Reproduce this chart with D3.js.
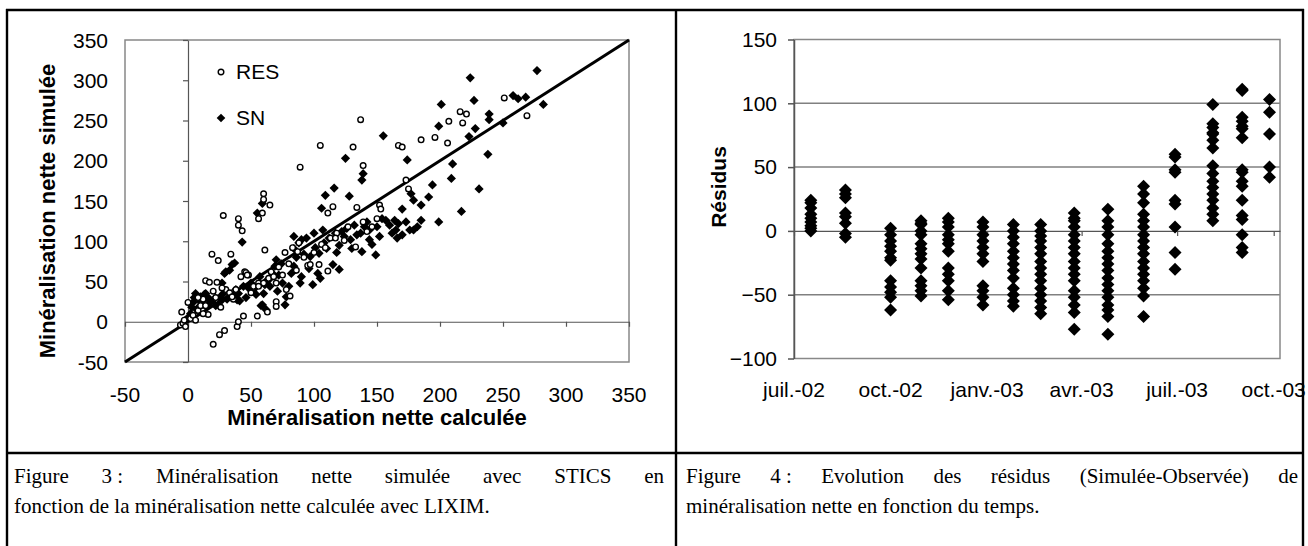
<!DOCTYPE html>
<html><head><meta charset="utf-8">
<script src="https://cdn.jsdelivr.net/npm/d3@7"></script>
<style>body{margin:0;background:#fff}svg{display:block}</style>
</head><body>
<svg id="c" width="1308" height="546"></svg>
<script>
// ---------- Figure 3 data (calculée, simulée) ----------
const resPoints = [[-6,-4],[-5,12],[-4,-2],[-3,2],[-2,-6],[0,24],[2,4],[4,8],[6,2],[8,14],[10,20],[12,28],[14,51],[16,9],[17,49],[19,84],[20,-28],[22,30],[23,49],[24,76],[25,-16],[26,18],[28,132],[29,-11],[30,40],[34,84],[36,28],[38,40],[39,-6],[40,0],[40,128],[40,120],[42,56],[43,113],[44,7],[45,62],[46,61],[48,58],[50,36],[52,44],[55,7],[56,128],[56,48],[59,135],[60,159],[60,152],[61,89],[63,12],[64,54],[65,145],[66,62],[68,56],[70,25],[70,19],[70,48],[72,68],[75,58],[77,86],[78,40],[80,72],[81,32],[83,92],[85,64],[88,98],[89,192],[92,80],[95,70],[97,71],[100,86],[104,71],[105,219],[106,96],[109,92],[111,135],[113,104],[115,143],[118,110],[124,101],[127,118],[131,217],[133,93],[134,142],[137,251],[139,194],[139,124],[142,112],[146,118],[150,128],[152,145],[153,140],[167,219],[170,217],[173,176],[175,165],[185,226],[196,229],[206,222],[207,249],[216,261],[218,247],[221,258],[251,278],[269,256],[20,38],[14,20],[8,30],[12,10],[60,48],[56,44],[33,36],[27,42],[111,63],[117,104],[87,87],[86,64],[47,58],[35,31]];
const snPoints = [[-2,2],[0,5],[2,10],[3,18],[4,24],[5,30],[6,35],[7,15],[8,28],[9,19],[10,31],[11,22],[12,26],[13,34],[14,35],[15,18],[16,30],[17,23],[18,26],[20,27],[22,20],[24,21],[25,30],[27,27],[27,48],[28,35],[29,60],[30,62],[31,28],[33,64],[35,71],[36,32],[37,73],[38,40],[39,27],[40,35],[41,26],[43,99],[44,44],[46,30],[48,42],[50,48],[52,40],[54,34],[55,135],[57,56],[58,20],[59,147],[59,21],[60,35],[61,46],[62,15],[63,52],[64,52],[65,44],[67,60],[69,69],[70,77],[71,38],[72,58],[74,72],[75,48],[77,21],[78,31],[80,44],[82,60],[84,106],[84,91],[84,69],[86,80],[88,98],[89,48],[90,102],[90,56],[92,84],[94,104],[96,66],[97,81],[99,46],[100,110],[101,92],[103,60],[104,85],[105,54],[106,141],[107,114],[108,98],[109,157],[110,91],[112,104],[115,71],[116,166],[117,110],[118,86],[120,95],[120,65],[122,112],[124,106],[125,203],[126,116],[128,156],[129,102],[130,91],[132,120],[134,108],[137,110],[138,87],[138,176],[139,184],[140,118],[142,124],[144,114],[144,102],[146,96],[149,83],[150,118],[152,106],[154,128],[155,231],[157,126],[160,120],[162,110],[164,126],[165,114],[166,104],[167,122],[170,140],[170,108],[173,124],[174,201],[176,114],[177,159],[179,151],[179,114],[182,118],[185,145],[185,126],[191,155],[194,170],[199,124],[199,243],[201,270],[209,178],[210,196],[217,137],[223,230],[224,303],[227,275],[228,240],[231,165],[238,208],[239,258],[239,251],[250,247],[258,281],[262,277],[268,279],[277,312],[282,270]];
const scatterTicks = [-50,0,50,100,150,200,250,300,350];
const scatterLegend = ["RES","SN"];

// ---------- Figure 4 data (résidus by sampling date) ----------
const residDates = ["2002-07-17","2002-08-19","2002-10-01","2002-10-30","2002-11-25","2002-12-28","2003-01-26","2003-02-21","2003-03-25","2003-04-26","2003-05-30","2003-06-29","2003-08-04","2003-09-01","2003-09-27"];
const residValues = [
  [24,22,18,13,10,7,4,2,0],
  [32,29,26,14,11,6,-2,-5],
  [2,-3,-8,-12,-16,-21,-23,-39,-44,-48,-52,-62],
  [8,6,5,0,-3,-10,-14,-18,-22,-29,-39,-43,-47,-51],
  [10,7,3,-3,-7,-10,-16,-29,-34,-39,-47,-54],
  [7,3,-3,-8,-13,-18,-24,-43,-47,-52,-58],
  [5,0,-5,-10,-16,-21,-26,-31,-37,-45,-50,-55,-59],
  [5,0,-4,-8,-13,-18,-24,-29,-34,-39,-45,-50,-55,-60,-65],
  [14,10,8,3,-3,-8,-13,-18,-24,-29,-34,-39,-47,-52,-58,-64,-77],
  [17,8,3,-3,-10,-16,-21,-26,-31,-37,-42,-47,-52,-58,-62,-67,-81],
  [35,29,22,13,8,3,-3,-8,-13,-18,-24,-29,-34,-39,-45,-51,-67],
  [60,58,48,46,24,21,3,-17,-30],
  [99,84,81,77,76,71,65,51,45,39,34,29,24,18,13,8],
  [111,110,89,86,82,80,73,48,46,39,35,24,12,9,-3,-13,-17],
  [103,93,76,50,42]
];
const residYTicks = [-100,-50,0,50,100,150];
const residXTickDates = ["2002-07-01","2002-10-01","2003-01-01","2003-04-01","2003-07-01","2003-10-01"];
const residXTickLabels = ["juil.-02","oct.-02","janv.-03","avr.-03","juil.-03","oct.-03"];

const captionLeft = ["Figure 3\u00a0: Minéralisation nette simulée avec STICS en","fonction de la minéralisation nette calculée avec LIXIM."];
const captionRight = ["Figure 4\u00a0: Evolution des résidus (Simulée-Observée) de","minéralisation nette en fonction du temps."];

const svg = d3.select("#c");
const SANS = "'Liberation Sans', Arial, sans-serif";
const SERIF = "'Liberation Serif', 'Times New Roman', serif";
const diamond = { draw(ctx, size){ const r = Math.sqrt(size/2); ctx.moveTo(0,-r); ctx.lineTo(r,0); ctx.lineTo(0,r); ctx.lineTo(-r,0); ctx.closePath(); } };

// ===== Left chart =====
const xL = d3.scaleLinear().domain([-50,350]).range([125,629]);
const yL = d3.scaleLinear().domain([-50,350]).range([362,40]);
const gL = svg.append("g");
gL.append("rect").attr("x",xL(-50)).attr("y",yL(350)).attr("width",xL(350)-xL(-50)).attr("height",yL(-50)-yL(350))
  .attr("fill","none").attr("stroke","#888").attr("stroke-width",1.5);
gL.append("g").attr("transform",`translate(0,${yL(0)})`)
  .call(d3.axisBottom(xL).tickValues(scatterTicks).tickSize(5).tickSizeOuter(0).tickFormat(""))
  .call(g=>g.selectAll("path,line").attr("stroke","#555").attr("stroke-width",1.2));
gL.append("g").attr("transform",`translate(${xL(0)},0)`)
  .call(d3.axisLeft(yL).tickValues(scatterTicks).tickSize(5).tickSizeOuter(0).tickFormat(""))
  .call(g=>g.selectAll("path,line").attr("stroke","#555").attr("stroke-width",1.2));
gL.append("g").selectAll("text").data(scatterTicks).join("text")
  .attr("x",108).attr("y",d=>yL(d)).attr("dy","0.36em").attr("text-anchor","end")
  .attr("font-family",SANS).attr("font-size",21).text(d=>d);
gL.append("g").selectAll("text").data(scatterTicks).join("text")
  .attr("x",d=>xL(d)).attr("y",401.5).attr("text-anchor","middle")
  .attr("font-family",SANS).attr("font-size",21).text(d=>d);
gL.append("text").attr("x",(xL(-50)+xL(350))/2).attr("y",425).attr("text-anchor","middle")
  .attr("font-family",SANS).attr("font-weight","bold").attr("font-size",22).text("Minéralisation nette calculée");
gL.append("text").attr("transform","translate(55,211) rotate(-90)").attr("text-anchor","middle")
  .attr("font-family",SANS).attr("font-weight","bold").attr("font-size",22).text("Minéralisation nette simulée");
// 1:1 line
gL.append("line").attr("x1",xL(-50)).attr("y1",yL(-50)).attr("x2",xL(350)).attr("y2",yL(350))
  .attr("stroke","#000").attr("stroke-width",3);
// points
gL.append("g").selectAll("path").data(snPoints).join("path")
  .attr("transform",d=>`translate(${xL(d[0])},${yL(d[1])})`)
  .attr("d",d3.symbol(diamond,2*4.6*4.6)()).attr("fill","#000");
gL.append("g").selectAll("circle").data(resPoints).join("circle")
  .attr("cx",d=>xL(d[0])).attr("cy",d=>yL(d[1])).attr("r",2.8)
  .attr("fill","#fff").attr("stroke","#000").attr("stroke-width",1.4);
// legend
gL.append("circle").attr("cx",221).attr("cy",72).attr("r",2.8).attr("fill","#fff").attr("stroke","#000").attr("stroke-width",1.4);
gL.append("path").attr("transform","translate(221,118)").attr("d",d3.symbol(diamond,2*4.3*4.3)()).attr("fill","#000");
gL.append("g").selectAll("text").data(scatterLegend).join("text")
  .attr("x",236).attr("y",(d,i)=>i?125:78.5).attr("font-family",SANS).attr("font-size",21).text(d=>d);

// ===== Right chart =====
const parse = d3.timeParse("%Y-%m-%d");
const xR = d3.scaleTime().domain([parse("2002-07-01"),parse("2003-10-07")]).range([794,1280]);
const yR = d3.scaleLinear().domain([-100,150]).range([358.5,39.5]);
const gR = svg.append("g");
gR.append("g").selectAll("line").data(residYTicks.filter(d=>d!==0&&d!==-100&&d!==150)).join("line")
  .attr("x1",794).attr("x2",1280).attr("y1",d=>yR(d)).attr("y2",d=>yR(d)).attr("stroke","#808080").attr("stroke-width",1.5);
gR.append("rect").attr("x",794).attr("y",yR(150)).attr("width",1280-794).attr("height",yR(-100)-yR(150))
  .attr("fill","none").attr("stroke","#888").attr("stroke-width",1.5);
gR.append("g").attr("transform",`translate(0,${yR(0)})`)
  .call(d3.axisBottom(xR).tickValues(residXTickDates.map(parse)).tickSize(5).tickSizeOuter(0).tickFormat(""))
  .call(g=>g.selectAll("path,line").attr("stroke","#555").attr("stroke-width",1.2));
gR.append("g").attr("transform","translate(794,0)")
  .call(d3.axisLeft(yR).tickValues(residYTicks).tickSize(6).tickPadding(11).tickSizeOuter(0))
  .call(g=>g.selectAll("path,line").attr("stroke","#555").attr("stroke-width",1.5))
  .call(g=>g.selectAll("text").attr("font-family",SANS).attr("font-size",21).attr("fill","#000"));
gR.append("g").selectAll("text").data(residXTickLabels).join("text")
  .attr("x",(d,i)=>xR(parse(residXTickDates[i]))).attr("y",397).attr("text-anchor","middle")
  .attr("font-family",SANS).attr("font-size",21).text(d=>d);
gR.append("text").attr("transform","translate(726,187) rotate(-90)").attr("text-anchor","middle")
  .attr("font-family",SANS).attr("font-weight","bold").attr("font-size",21).text("Résidus");
const residPts = residDates.flatMap((d,i)=>residValues[i].map(v=>[parse(d),v]));
gR.append("g").selectAll("path").data(residPts).join("path")
  .attr("transform",d=>`translate(${xR(d[0])},${yR(d[1])})`)
  .attr("d",d3.symbol(diamond,2*6.5*6.5)()).attr("fill","#000");

// ===== Table borders & captions =====
const gB = svg.append("g").attr("stroke","#000").attr("stroke-width",2.4);
gB.append("line").attr("x1",6).attr("x2",1304).attr("y1",10).attr("y2",10);
gB.append("line").attr("x1",6).attr("x2",1304).attr("y1",453).attr("y2",453);
[7,676,1303].forEach(x=>gB.append("line").attr("x1",x).attr("x2",x).attr("y1",9).attr("y2",546));

function caption(lines, x0, x1){
  lines.forEach((t,i)=>{
    const y = 483+i*30;
    if(i===0){
      const words = t.split(" ");
      const widths = words.map(w=>{
        const tmp = svg.append("text").attr("font-family",SERIF).attr("font-size",21).text(w);
        const wd = tmp.node().getComputedTextLength(); tmp.remove(); return wd;
      });
      const gap = ((x1-x0) - d3.sum(widths))/(words.length-1);
      let x = x0;
      const tx = svg.append("text").attr("y",y).attr("font-family",SERIF).attr("font-size",21);
      words.forEach((w,k)=>{ tx.append("tspan").attr("x",x).text(w); x += widths[k]+gap; });
    } else {
      svg.append("text").attr("x",x0).attr("y",y).attr("font-family",SERIF).attr("font-size",21).text(t);
    }
  });
}
caption(captionLeft,14,664);
caption(captionRight,686,1298);
</script>
</body></html>
